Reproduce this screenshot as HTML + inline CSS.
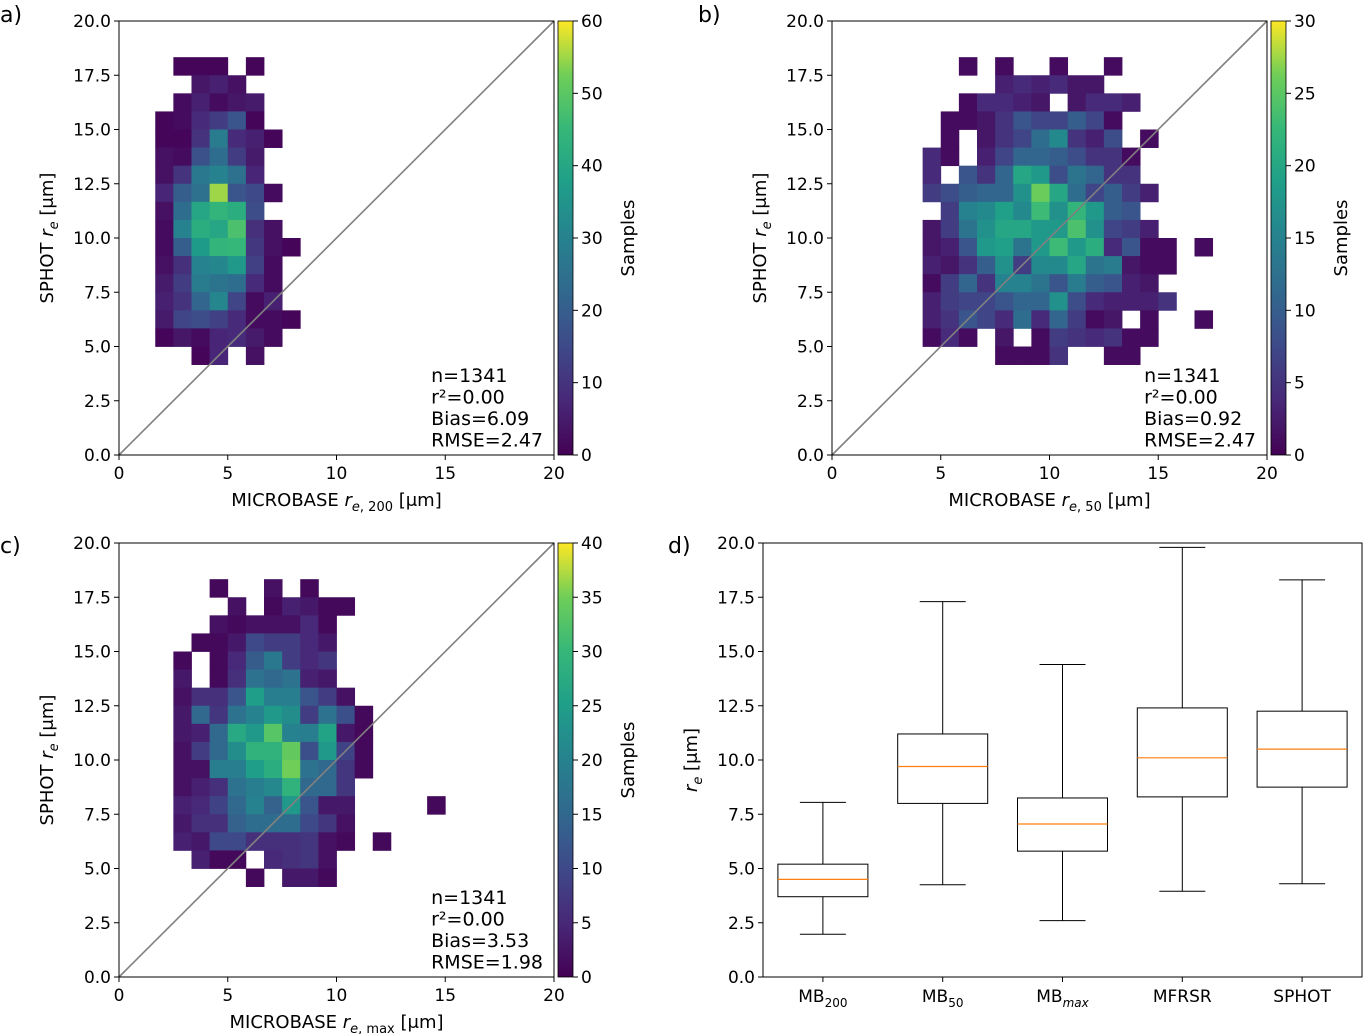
<!DOCTYPE html>
<html><head><meta charset="utf-8"><style>
body{margin:0;background:#fff;}
svg{display:block;font-family:"DejaVu Sans","Liberation Sans",sans-serif;}
</style></head><body>
<svg id="fig" width="1365" height="1034" viewBox="0 0 1365 1034"></svg>
<script>
// ---- data ----
const binWidth = 20/24;
const aColStart = 2, aTopBin = 21, aVmax = 60;
const aRows = [
[0,1,1,1,0,1,0,0],[0,0,4,6,3,0,0,0],[0,2,6,2,4,5,0,0],[1,2,8,12,18,1,0,0],
[1,1,10,28,8,6,1,0],[3,2,17,24,12,5,0,0],[3,10,27,30,25,7,0,0],[7,20,25,55,18,15,2,0],
[3,24,40,44,42,16,0,0],[2,30,42,40,48,9,3,0],[2,20,37,44,45,11,3,1],[3,9,30,31,36,13,2,0],
[5,12,28,26,24,8,2,0],[6,10,22,31,14,2,6,0],[5,14,16,13,8,2,2,1],[1,4,2,7,8,5,2,0],[0,0,1,7,0,3,0,0]];
const bColStart = 5, bTopBin = 21, bVmax = 30;
const bRows = [
[0,0,1,0,1,0,0,1,0,0,1,0,0,0,0,0],[0,0,0,0,3,4,3,4,2,2,0,0,0,0,0,0],
[0,0,1,4,4,3,2,0,2,4,4,3,0,0,0,0],[0,1,1,2,5,9,7,7,10,7,1,0,0,0,0,0],
[0,1,0,2,5,7,12,16,5,3,8,0,1,0,0,0],[4,1,0,3,7,11,11,10,8,5,5,1,0,0,0,0],
[4,0,9,5,11,20,18,8,13,11,5,5,0,0,0,0],[6,8,10,11,11,17,26,20,12,7,10,6,3,0,0,0],
[0,6,15,16,19,16,23,17,22,18,10,9,0,0,0,0],[2,6,13,17,20,20,18,18,24,17,7,6,3,0,0,0],
[2,3,9,18,19,13,18,23,18,21,4,9,1,1,0,1],[3,2,5,10,17,6,16,16,20,13,14,2,1,1,0,0],
[1,6,11,5,15,15,13,9,14,10,9,3,2,0,0,0],[3,6,7,7,9,11,11,17,8,4,3,3,3,5,0,0],
[3,5,9,7,4,12,4,11,6,1,2,0,1,0,0,1],[1,4,1,0,2,0,1,6,5,4,5,1,1,0,0,0],
[0,0,0,0,1,1,1,5,0,0,1,1,0,0,0,0]];
const cColStart = 3, cTopBin = 21, cVmax = 40;
const cRows = [
[0,0,1,0,0,2,0,1,0,0,0,0,0,0,0],[0,0,0,2,0,1,4,3,1,1,0,0,0,0,0],
[0,0,2,1,2,2,2,5,1,0,0,0,0,0,0],[0,1,1,3,10,8,8,5,3,0,0,0,0,0,0],
[1,0,1,5,13,18,8,5,7,0,0,0,0,0,0],[3,0,1,6,17,15,17,4,3,0,0,0,0,0,0],
[2,6,6,12,25,19,19,12,8,2,0,0,0,0,0],[3,15,7,17,20,24,22,8,17,11,1,0,0,0,0],
[3,4,15,27,24,33,20,19,26,3,1,0,0,0,0],[2,8,15,22,29,29,34,11,24,9,1,0,0,0,0],
[2,2,19,19,25,28,35,17,15,7,1,0,0,0,0],[2,4,6,17,19,21,29,15,15,7,0,0,0,0,0],
[4,5,9,15,20,14,24,12,3,3,0,0,0,0,1],[3,6,6,14,16,16,16,10,7,2,0,0,0,0,0],
[4,3,10,10,6,6,6,7,2,1,0,1,0,0,0],[0,4,1,1,0,5,6,7,2,0,0,0,0,0,0],
[0,0,0,0,1,0,3,3,1,0,0,0,0,0,0]];
const axisTicks = [0,2.5,5,7.5,10,12.5,15,17.5,20];
const xTicks = [0,5,10,15,20];
const aCbTicks = [0,10,20,30,40,50,60];
const bCbTicks = [0,5,10,15,20,25,30];
const cCbTicks = [0,5,10,15,20,25,30,35,40];
const aStats = ["n=1341","r²=0.00","Bias=6.09","RMSE=2.47"];
const bStats = ["n=1341","r²=0.00","Bias=0.92","RMSE=2.47"];
const cStats = ["n=1341","r²=0.00","Bias=3.53","RMSE=1.98"];
const boxNames = ["MB200","MB50","MBmax","MFRSR","SPHOT"];
const boxWhiskerLow = [1.97,4.25,2.6,3.95,4.3];
const boxQ1 = [3.7,8.0,5.8,8.3,8.75];
const boxMedian = [4.5,9.7,7.05,10.1,10.5];
const boxQ3 = [5.2,11.2,8.25,12.4,12.25];
const boxWhiskerHigh = [8.05,17.3,14.4,19.8,18.3];

const NS="http://www.w3.org/2000/svg";
const svg=document.getElementById('fig');
function el(tag,attrs,parent,text){const e=document.createElementNS(NS,tag);for(const k in attrs)e.setAttribute(k,attrs[k]);if(text!==undefined)e.textContent=text;(parent||svg).appendChild(e);return e;}
const VS=["#440154","#482878","#3e4989","#31688e","#26828e","#1f9e89","#35b779","#6ece58","#fde725"];
function hx(h){return [1,3,5].map(i=>parseInt(h.substr(i,2),16));}
function viridis(t){t=Math.max(0,Math.min(1,t));const p=t*8,i=Math.min(7,Math.floor(p)),f=p-i;const a=hx(VS[i]),b=hx(VS[i+1]);return "rgb("+a.map((v,k)=>Math.round(v+(b[k]-v)*f)).join(",")+")";}

function yAxis(g,x0,y0,y1){
  const ys=v=>y0-(v/20)*(y0-y1);
  axisTicks.forEach(t=>{
    const y=ys(t);
    const tk=el('line',{x1:x0-5,x2:x0,y1:y,y2:y,stroke:'#000','stroke-width':1},g);
    
    const lb=el('text',{x:x0-8,y:y+6,'text-anchor':'end','font-size':17},g,t.toFixed(1));
    
  });
  return ys;
}
function heatPanel(o){
  const g=el('g',{});
  const x0=o.x0,x1=o.x1,y0=o.y0,y1=o.y1;
  const xs=v=>x0+(v/20)*(x1-x0), ys=v=>y0-(v/20)*(y0-y1);
  o.rows.forEach((row,i)=>{const bin=o.top-i;row.forEach((v,j)=>{if(v<=0)return;const c=o.col+j;
    const r=el('rect',{x:xs(c*binWidth),y:ys((bin+1)*binWidth),width:xs((c+1)*binWidth)-xs(c*binWidth)+0.4,height:ys(bin*binWidth)-ys((bin+1)*binWidth)+0.4,fill:viridis(v/o.vmax)},g);
    });});
  const d=el('line',{x1:xs(0),y1:ys(0),x2:xs(20),y2:ys(20),stroke:'#808080','stroke-width':1.6},g);
  
  const fr=el('rect',{x:x0,y:y1,width:x1-x0,height:y0-y1,fill:'none',stroke:'#000','stroke-width':1},g);
  
  xTicks.forEach(t=>{const x=xs(t);
    const tk=el('line',{x1:x,x2:x,y1:y0,y2:y0+5,stroke:'#000'},g);
    const lb=el('text',{x:x,y:y0+24,'text-anchor':'middle','font-size':17},g,String(t));});
  yAxis(g,x0,y0,y1);
  const xl=el('text',{x:(x0+x1)/2,y:y0+o.xlOff,'text-anchor':'middle','font-size':18},g);
  
  xl.innerHTML='MICROBASE <tspan font-style="italic">r</tspan><tspan font-size="13" dy="5"><tspan font-style="italic">e</tspan>, '+o.sub+'</tspan><tspan dy="-5"> [μm]</tspan>';
  const yl=el('text',{transform:`translate(${x0-66},${(y0+y1)/2}) rotate(-90)`,'text-anchor':'middle','font-size':18},g);
  
  yl.innerHTML='SPHOT <tspan font-style="italic">r</tspan><tspan font-size="13" dy="5" font-style="italic">e</tspan><tspan dy="-5"> [μm]</tspan>';
  o.stats.forEach((s,i)=>{const t=el('text',{x:xs(14.35),y:y0-73+i*21.5,'font-size':19},g,s);});
  const cx=x1+4,cw=15;
  const gid='grad'+o.name;const defs=el('defs',{},g);const lg=el('linearGradient',{id:gid,x1:0,y1:1,x2:0,y2:0},defs);
  for(let k=0;k<=16;k++)el('stop',{offset:k/16,'stop-color':viridis(k/16)},lg);
  const cb=el('rect',{x:cx,y:y1,width:cw,height:y0-y1,fill:`url(#${gid})`,stroke:'#000','stroke-width':0.8},g);
  
  o.cbTicks.forEach(t=>{const y=y0-(t/o.vmax)*(y0-y1);
    const tk=el('line',{x1:cx+cw,x2:cx+cw+5,y1:y,y2:y,stroke:'#000'},g);
    const lb=el('text',{x:cx+cw+8,y:y+6,'font-size':17},g,String(t));});
  const sl=el('text',{transform:`translate(${cx+cw+61},${(y0+y1)/2}) rotate(-90)`,'text-anchor':'middle','font-size':18},g,'Samples');
  
  const pl=el('text',{x:o.lx,y:o.ly,'font-size':22},g,o.label);
}
heatPanel({name:'panel-a',x0:119,x1:554,y0:455,y1:21,rows:aRows,col:aColStart,top:aTopBin,vmax:aVmax,cbTicks:aCbTicks,stats:aStats,sub:'200',label:'a)',lx:0,ly:22,xlOff:51});
heatPanel({name:'panel-b',x0:832,x1:1267,y0:455,y1:21,rows:bRows,col:bColStart,top:bTopBin,vmax:bVmax,cbTicks:bCbTicks,stats:bStats,sub:'50',label:'b)',lx:698,ly:22,xlOff:51});
heatPanel({name:'panel-c',x0:119,x1:554,y0:977,y1:543,rows:cRows,col:cColStart,top:cTopBin,vmax:cVmax,cbTicks:cCbTicks,stats:cStats,sub:'max',label:'c)',lx:0,ly:553,xlOff:51});
(function(){
  const g=el('g',{});
  const x0=763,x1=1362,y0=977,y1=543;
  const xs=v=>x0+(v-0.5)/5*(x1-x0);
  const ys=yAxis(g,x0,y0,y1);
  boxNames.forEach((n,i)=>{const cx=xs(i+1),hw=45,cw=23;
    const bg=el('g',{},g);
    el('line',{x1:cx,x2:cx,y1:ys(boxWhiskerLow[i]),y2:ys(boxQ1[i]),stroke:'#000'},bg);
    el('line',{x1:cx,x2:cx,y1:ys(boxQ3[i]),y2:ys(boxWhiskerHigh[i]),stroke:'#000'},bg);
    el('line',{x1:cx-cw,x2:cx+cw,y1:ys(boxWhiskerLow[i]),y2:ys(boxWhiskerLow[i]),stroke:'#000'},bg);
    el('line',{x1:cx-cw,x2:cx+cw,y1:ys(boxWhiskerHigh[i]),y2:ys(boxWhiskerHigh[i]),stroke:'#000'},bg);
    el('rect',{x:cx-hw,y:ys(boxQ3[i]),width:2*hw,height:ys(boxQ1[i])-ys(boxQ3[i]),fill:'none',stroke:'#000'},bg);
    el('line',{x1:cx-hw,x2:cx+hw,y1:ys(boxMedian[i]),y2:ys(boxMedian[i]),stroke:'#ff7f0e','stroke-width':1.2},bg);
    const tk=el('line',{x1:cx,x2:cx,y1:y0,y2:y0+5,stroke:'#000'},g);
    const lb=el('text',{x:cx,y:y0+25,'text-anchor':'middle','font-size':17},g);
    if(n.startsWith('MB')){const s=n.slice(2);lb.innerHTML='MB<tspan font-size="12" dy="5"'+(s==='max'?' font-style="italic"':'')+'>'+s+'</tspan>';}else lb.textContent=n;
  });
  const fr=el('rect',{x:x0,y:y1,width:x1-x0,height:y0-y1,fill:'none',stroke:'#000'},g);
  const yl=el('text',{transform:`translate(${x0-66},${(y0+y1)/2}) rotate(-90)`,'text-anchor':'middle','font-size':18},g);
  
  yl.innerHTML='<tspan font-style="italic">r</tspan><tspan font-size="13" dy="5" font-style="italic">e</tspan><tspan dy="-5"> [μm]</tspan>';
  const pl=el('text',{x:668,y:553,'font-size':22},g,'d)');
})();
</script>
</body></html>
